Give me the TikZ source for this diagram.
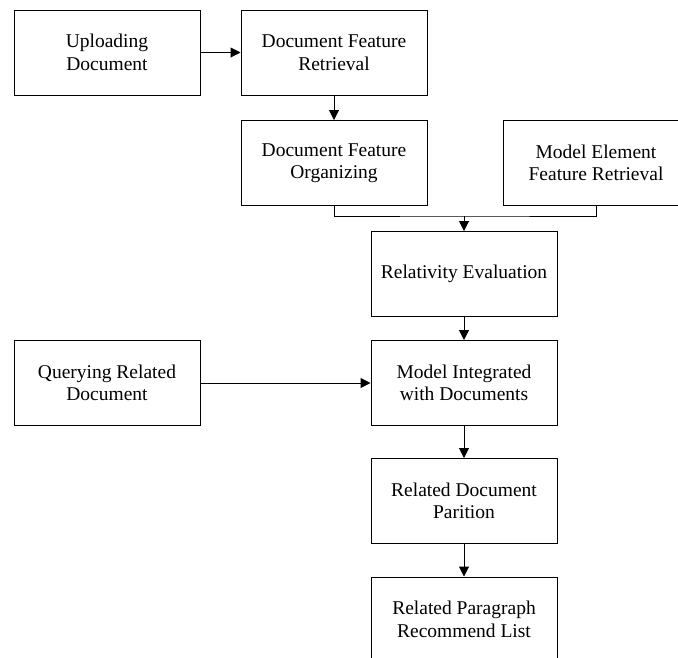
\documentclass[tikz,border=0pt]{standalone}
\usepackage{fontspec}
\setmainfont{Liberation Serif}
\usetikzlibrary{arrows.meta}
\begin{document}
\begin{tikzpicture}[x=1pt,y=-1pt,
  box/.style={draw=black,line width=1pt,minimum width=186pt,minimum height=85pt,
    align=center,inner sep=2pt,font=\fontsize{19.5}{22.5}\selectfont},
  arr/.style={draw=black,line width=1pt,-{Triangle[length=10pt,width=10pt]}},
  ln/.style={draw=black,line width=1pt}]
\clip (0,0) rectangle (678,657);
\fill[white] (0,0) rectangle (678,657);
\node[box] (b1) at (107,52.5) {Uploading\\Document};
\node[box] (b2) at (334,52.5) {Document Feature\\Retrieval};
\node[box] (b3) at (334,163) {Document Feature\\Organizing};
\node[box] (b4) at (596,163) {Model Element\\Feature Retrieval};
\node[box] (b5) at (464,274) {Relativity Evaluation};
\node[box] (b6) at (107,383) {Querying Related\\Document};
\node[box] (b7) at (464,383) {Model Integrated\\with Documents};
\node[box] (b8) at (464,501) {Related Document\\Parition};
\node[box] (b9) at (464,619.5) {Related Paragraph\\Recommend List};
\coordinate (j) at (464,216);
\draw[arr] (b1) -- (b2);
\draw[arr] (b2) -- (b3);
\draw[ln] (b3.south) |- (j) -| (b4.south);
\draw[arr] (j) -- (b5);
\draw[arr] (b5) -- (b7);
\draw[arr] (b6) -- (b7);
\draw[arr] (b7) -- (b8);
\draw[arr] (b8) -- (b9);
\end{tikzpicture}
\end{document}
